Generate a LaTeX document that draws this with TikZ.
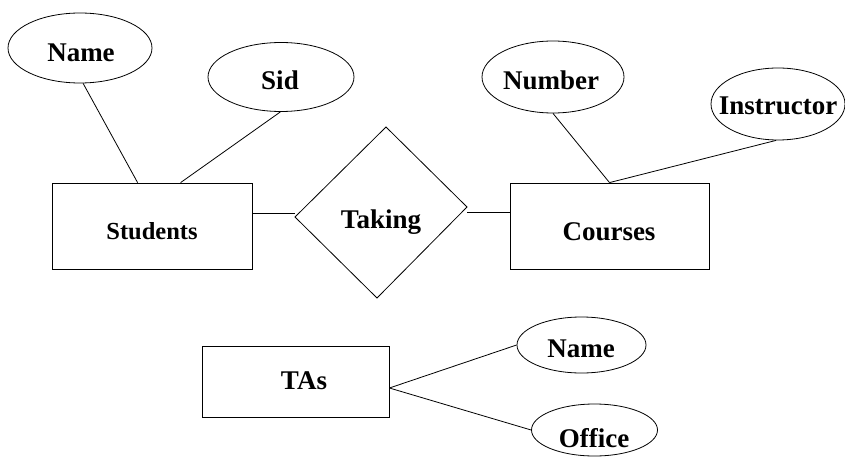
\documentclass[tikz,border=0pt]{standalone}
\usepackage{fontspec}
\setmainfont{Liberation Serif}
\usetikzlibrary{shapes.geometric}
\tikzset{
  ln/.style={line width=0.8pt, draw=black},
  entity/.style={ln, rectangle, inner sep=0pt},
  attr/.style={ln, ellipse, inner sep=0pt},
  txt/.style={anchor=base, inner sep=0pt, font=\fontsize{27}{30}\selectfont\bfseries},
  smalltxt/.style={txt, font=\fontsize{24.5}{28}\selectfont\bfseries},
}
\begin{document}
\begin{tikzpicture}[x=1pt, y=-1pt]
  \useasboundingbox (0,0) rectangle (845,457);

  % entities
  \node[entity, minimum width=200pt, minimum height=86pt] (st) at (152,226) {};
  \node[entity, minimum width=199pt, minimum height=86pt] (co) at (609.5,226) {};
  \node[entity, minimum width=187pt, minimum height=71pt] (ta) at (295.5,381.5) {};

  % relationship: a slightly skewed diamond
  \coordinate (tkL) at (295,217);
  \coordinate (tkT) at (386,127);
  \coordinate (tkR) at (467,207);
  \coordinate (tkB) at (377,298);
  \draw[ln, line join=miter] (tkL) -- (tkT) -- (tkR) -- (tkB) -- cycle;

  % attributes
  \node[attr, minimum width=144pt, minimum height=70pt] (sname) at (80,48) {};
  \node[attr, minimum width=146pt, minimum height=69pt] (sid) at (281,77) {};
  \node[attr, minimum width=142pt, minimum height=72pt] (num) at (553,77) {};
  \node[attr, minimum width=134pt, minimum height=72pt] (ins) at (778,104) {};
  \node[attr, minimum width=129pt, minimum height=56pt] (tname) at (581.5,345) {};
  \node[attr, minimum width=126pt, minimum height=52pt] (off) at (594.5,430) {};

  % labels
  \node[txt] (lsname) at (81,62) {Name};
  \node[txt] (lsid) at (280,90) {Sid};
  \node[txt] (lnum) at (551,90) {Number};
  \node[txt] (lins) at (778,115) {Instructor};
  \node[txt] (ltk) at (381,228) {Taking};
  \node[smalltxt] (lst) at (152,239) {Students};
  \node[txt] (lco) at (609,240) {Courses};
  \node[txt] (lta) at (304,389) {TAs};
  \node[txt] (ltname) at (581,357) {Name};
  \node[txt] (loff) at (594,447) {Office};

  % connectors
  \draw[ln] (sname.-85) -- ([xshift=86pt]st.north west);
  \draw[ln] (sid.-91) -- ([xshift=129pt]st.north west);
  \draw[ln] (num.south) -- (co.north);
  \draw[ln] (ins.-93) -- (co.north);
  \draw[ln] ([yshift=13pt]st.east) -- ([yshift=13pt]st.east -| tkL);
  \draw[ln] ([yshift=14pt]co.west) -- ([yshift=14pt]co.west -| tkR);
  \draw[ln] ([yshift=-6.5pt]ta.east) -- (tname.west);
  \draw[ln] ([yshift=-6.5pt]ta.east) -- (off.west);
\end{tikzpicture}
\end{document}
